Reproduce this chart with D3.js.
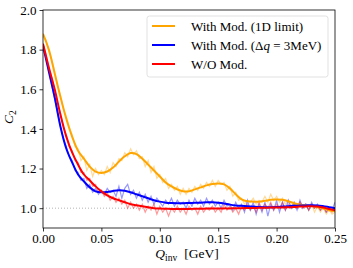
<!DOCTYPE html>
<html>
<head>
<meta charset="utf-8">
<script src="https://cdn.jsdelivr.net/npm/d3@7"></script>
<style>
  body { margin: 0; background: #fff; }
  svg text { font-family: "Liberation Serif", "DejaVu Serif", "Times New Roman", serif !important; }
</style>
</head>
<body>
<div id="plot"></div>
<script>
// x grids (GeV)
var xSmooth = d3.range(0, 51).map(function(i) { return i * 0.005; });
var xNoisy = d3.range(0, 101).map(function(i) { return i * 0.0025; });

// smooth curves, step 0.005
var orangeSmooth = [1.88,1.80,1.68,1.56,1.45,1.36,1.29,1.25,1.21,1.185,1.178,1.185,1.205,1.235,1.262,1.278,1.273,1.25,1.22,1.19,1.16,1.13,1.11,1.095,1.085,1.085,1.095,1.105,1.115,1.122,1.125,1.12,1.10,1.07,1.045,1.035,1.033,1.033,1.037,1.042,1.044,1.042,1.035,1.025,1.018,1.015,1.012,1.005,0.998,0.99,0.985];
var blueSmooth = [1.82,1.69,1.56,1.41,1.30,1.23,1.17,1.135,1.105,1.085,1.08,1.082,1.087,1.09,1.088,1.08,1.07,1.06,1.05,1.04,1.033,1.028,1.026,1.025,1.025,1.026,1.027,1.028,1.03,1.03,1.028,1.024,1.018,1.014,1.012,1.01,1.008,1.006,1.005,1.005,1.006,1.008,1.01,1.012,1.013,1.014,1.015,1.014,1.01,1.005,1.0];
var redSmooth = [1.83,1.71,1.60,1.47,1.36,1.28,1.22,1.17,1.14,1.11,1.085,1.065,1.05,1.04,1.03,1.02,1.015,1.01,1.005,1.0,0.998,0.997,0.996,0.996,0.996,0.996,0.997,0.997,0.998,0.998,0.998,0.999,0.999,1.0,1.0,1.001,1.001,1.002,1.002,1.003,1.003,1.004,1.005,1.006,1.008,1.009,1.01,1.008,1.003,0.996,0.99];

// noisy curves, step 0.0025
var orangeNoisy = [1.87,1.85,1.79,1.75,1.69,1.62,1.57,1.50,1.46,1.41,1.37,1.31,1.30,1.24,1.26,1.19,1.22,1.16,1.20,1.17,1.19,1.17,1.21,1.18,1.23,1.21,1.25,1.24,1.28,1.26,1.30,1.27,1.29,1.25,1.26,1.21,1.24,1.18,1.21,1.15,1.17,1.13,1.15,1.10,1.12,1.09,1.11,1.07,1.10,1.07,1.10,1.08,1.11,1.09,1.12,1.10,1.13,1.11,1.14,1.11,1.14,1.12,1.13,1.09,1.11,1.06,1.08,1.04,1.05,1.02,1.04,1.03,1.05,1.02,1.04,1.03,1.06,1.03,1.07,1.04,1.06,1.03,1.05,1.02,1.04,1.01,1.03,1.00,1.03,1.01,1.02,0.99,1.02,0.98,1.01,0.98,1.00,0.97,0.99,0.97,0.98];
var blueNoisy = [1.81,1.76,1.69,1.62,1.55,1.48,1.41,1.35,1.31,1.26,1.24,1.19,1.18,1.14,1.15,1.10,1.12,1.08,1.10,1.07,1.09,1.07,1.10,1.08,1.09,1.06,1.11,1.05,1.10,1.12,1.07,1.09,1.05,1.08,1.04,1.07,1.03,1.06,1.02,1.05,1.03,1.01,1.04,1.02,1.05,1.01,1.04,1.02,1.03,1.00,1.04,1.01,1.05,1.02,1.04,1.01,1.05,1.02,1.04,1.01,1.03,1.00,1.04,1.01,1.02,0.99,1.03,1.00,1.02,0.98,1.04,0.99,1.03,0.97,1.02,0.98,1.03,0.96,1.02,0.99,1.04,0.98,1.03,0.99,1.04,1.00,1.03,0.99,1.04,1.00,1.02,0.99,1.03,1.00,1.02,0.99,1.01,0.98,1.00,0.99,1.03];
var redNoisy = [1.83,1.78,1.71,1.66,1.60,1.53,1.48,1.41,1.37,1.31,1.29,1.24,1.23,1.18,1.18,1.14,1.15,1.11,1.12,1.08,1.09,1.06,1.08,1.04,1.06,1.03,1.05,1.02,1.04,1.00,1.03,1.00,1.02,0.99,1.02,0.98,1.01,0.99,1.02,0.97,1.01,0.98,1.00,0.96,1.00,0.98,1.01,0.98,1.00,0.97,1.01,0.99,1.00,0.97,1.01,0.98,1.00,0.99,1.01,0.98,1.00,0.98,1.02,0.99,1.01,0.98,1.00,0.97,1.01,0.99,1.02,0.99,1.01,0.98,1.03,0.99,1.02,1.00,1.03,0.99,1.02,1.00,1.03,0.99,1.02,1.00,1.02,1.00,1.03,1.00,1.02,0.99,1.02,1.00,1.01,0.99,1.01,0.98,1.00,0.98,0.99];

var xTicks = [0, 0.05, 0.10, 0.15, 0.20, 0.25];
var yTicks = [1.0, 1.2, 1.4, 1.6, 1.8, 2.0];

var series = [
  { name: "orange", color: "#ffa500", smooth: orangeSmooth, noisy: orangeNoisy },
  { name: "blue", color: "#0000ff", smooth: blueSmooth, noisy: blueNoisy },
  { name: "red", color: "#ff0000", smooth: redSmooth, noisy: redNoisy }
];

var width = 353, height = 268;
var padL = 43, padT = 10, padR = 335, padB = 228;

var svg = d3.select("#plot").append("svg")
  .attr("width", width)
  .attr("height", height)
  .attr("font-family", "'Liberation Serif', serif");

var x = d3.scaleLinear().domain([0, 0.25]).range([padL, padR]);
var y = d3.scaleLinear().domain([0.9, 2.0]).range([padB, padT]);

// clip
svg.append("clipPath").attr("id", "clip")
  .append("rect")
  .attr("x", padL).attr("y", padT)
  .attr("width", padR - padL).attr("height", padB - padT);

// dotted reference line at 1
svg.append("line")
  .attr("x1", x(0)).attr("x2", x(0.25))
  .attr("y1", y(1)).attr("y2", y(1))
  .attr("stroke", "#aaaaaa")
  .attr("stroke-width", 0.9)
  .attr("stroke-dasharray", "1,2");

var lines = svg.append("g").attr("clip-path", "url(#clip)");

var noisyLine = d3.line()
  .x(function(d, i) { return x(xNoisy[i]); })
  .y(function(d) { return y(d); });

var smoothLine = d3.line()
  .x(function(d, i) { return x(xSmooth[i]); })
  .y(function(d) { return y(d); })
  .curve(d3.curveCatmullRom);

// faint noisy lines first
series.forEach(function(s) {
  lines.append("path")
    .attr("d", noisyLine(s.noisy))
    .attr("fill", "none")
    .attr("stroke", s.color)
    .attr("stroke-opacity", 0.4)
    .attr("stroke-width", 1.2);
});
series.forEach(function(s) {
  lines.append("path")
    .attr("d", smoothLine(s.smooth))
    .attr("fill", "none")
    .attr("stroke", s.color)
    .attr("stroke-width", 2);
});

// axes
var xAxis = svg.append("g")
  .attr("transform", "translate(0," + padB + ")")
  .call(d3.axisBottom(x).tickValues(xTicks).tickFormat(d3.format(".2f")).tickSize(3.5).tickPadding(2.5));
var yAxis = svg.append("g")
  .attr("transform", "translate(" + padL + ",0)")
  .call(d3.axisLeft(y).tickValues(yTicks).tickFormat(d3.format(".1f")).tickSize(3.5).tickPadding(3));
[xAxis, yAxis].forEach(function(a) {
  a.attr("font-family", null).attr("font-size", null);
  a.select(".domain").remove();
  a.selectAll("line").attr("stroke", "#000").attr("stroke-width", 0.8);
  a.selectAll("text").attr("fill", "#000").style("font-size", "13px");
});

// frame
svg.append("rect")
  .attr("x", padL).attr("y", padT)
  .attr("width", padR - padL).attr("height", padB - padT)
  .attr("fill", "none")
  .attr("stroke", "#000")
  .attr("stroke-width", 0.8);

// axis labels
var xl = svg.append("text")
  .attr("x", (padL + padR) / 2 - 2)
  .attr("y", 258)
  .attr("text-anchor", "middle")
  .style("font-size", "13.5px");
xl.append("tspan").attr("font-style", "italic").text("Q");
xl.append("tspan").attr("dy", 3).style("font-size", "9.5px").text("inv");
xl.append("tspan").attr("dy", -3).attr("dx", 7).text("[GeV]");

var yl = svg.append("text")
  .attr("transform", "translate(13," + ((padT + padB) / 2 - 2) + ") rotate(-90)")
  .attr("text-anchor", "middle")
  .style("font-size", "13.5px");
yl.append("tspan").attr("font-style", "italic").text("C");
yl.append("tspan").attr("dy", 3).style("font-size", "9.5px").text("2");

// legend
var legend = svg.append("g");
legend.append("rect")
  .attr("x", 147).attr("y", 16)
  .attr("width", 181).attr("height", 61)
  .attr("rx", 2.5)
  .attr("fill", "#fff")
  .attr("fill-opacity", 0.8)
  .attr("stroke", "#d9d9d9")
  .attr("stroke-width", 0.8);

var legendRows = [
  { color: "#ffa500", y: 26 },
  { color: "#0000ff", y: 45 },
  { color: "#ff0000", y: 64 }
];
legendRows.forEach(function(r) {
  legend.append("line")
    .attr("x1", 152).attr("x2", 175)
    .attr("y1", r.y).attr("y2", r.y)
    .attr("stroke", r.color)
    .attr("stroke-width", 2);
});

var t1 = legend.append("text").attr("x", 191).attr("y", 30.5).style("font-size", "13px")
  .text("With Mod. (1D limit)");
var t2 = legend.append("text").attr("x", 191).attr("y", 49.5).style("font-size", "13px");
t2.append("tspan").text("With Mod. (Δ");
t2.append("tspan").attr("font-style", "italic").text("q");
t2.append("tspan").text(" = 3MeV)");
var t3 = legend.append("text").attr("x", 191).attr("y", 68.5).style("font-size", "13px")
  .text("W/O Mod.");
</script>
</body>
</html>
